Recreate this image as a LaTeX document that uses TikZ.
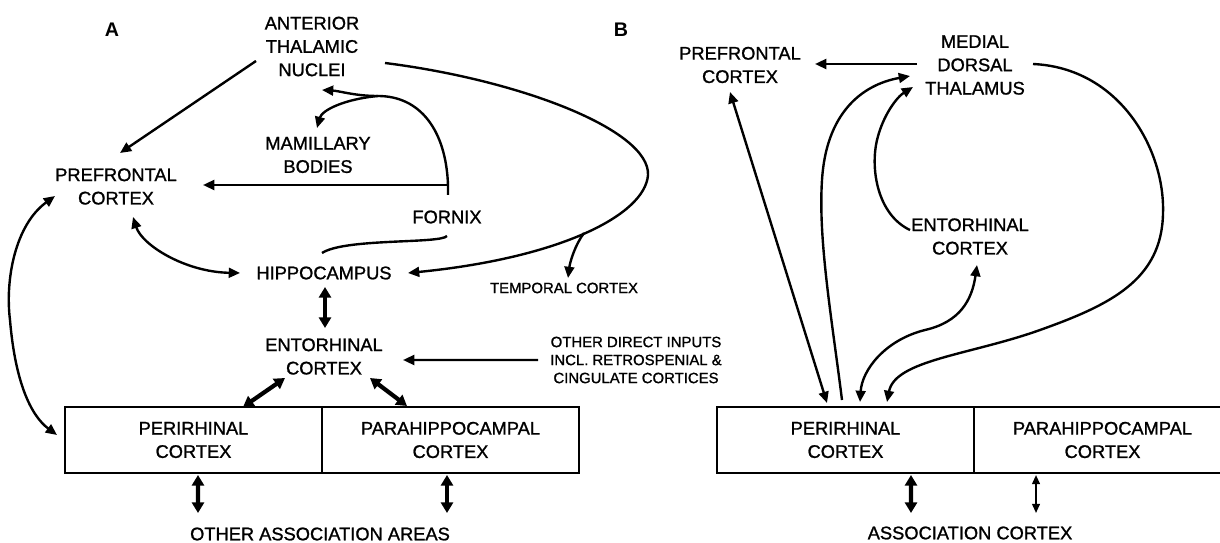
\documentclass[tikz,border=0pt]{standalone}
\usepackage{fontspec}
\setmainfont{Liberation Sans}
\newfontfamily\labfont{Liberation Sans}[FakeBold=1.2]
\usetikzlibrary{arrows.meta,calc}
\begin{document}
\begin{tikzpicture}[x=0.025cm,y=-0.025cm,
    lbl/.style={align=center,inner sep=0pt,font=\labfont\fontsize{13}{16.6}\selectfont},
    small/.style={align=center,inner sep=0pt,font=\labfont\fontsize{10.6}{12.8}\selectfont},
    panel/.style={inner sep=0pt,font=\bfseries\fontsize{14}{16}\selectfont},
    cell/.style={draw,line width=1.5pt,minimum width=6.425cm,minimum height=1.65cm,
      inner sep=0pt,align=center,font=\labfont\fontsize{13}{16.6}\selectfont},
    plain/.style={line width=1.7pt},
    arr/.style={line width=1.7pt,-{Triangle[length=8pt,width=7pt]}},
    darr/.style={line width=1.7pt,{Triangle[length=8pt,width=7pt]}-{Triangle[length=8pt,width=7pt]}},
    thinarr/.style={line width=1.3pt,{Triangle[length=6.5pt,width=5.5pt]}-{Triangle[length=6.5pt,width=5.5pt]}},
    fat/.style={line width=3pt,{Triangle[length=7.5pt,width=8.5pt]}-{Triangle[length=7.5pt,width=8.5pt]}}]
    \useasboundingbox (0,0) rectangle (1220,543);
    % panel A
    \node[panel] (labA) at (112,30) {A};
    \node[lbl] (atn) at (312,46.5) {ANTERIOR\\THALAMIC\\NUCLEI};
    \node[lbl] (pfcA) at (116,186.5) {PREFRONTAL\\CORTEX};
    \node[lbl] (mb) at (318,155) {MAMILLARY\\BODIES};
    \node[lbl] (fornix) at (447,217) {FORNIX};
    \node[lbl] (hip) at (324,273) {HIPPOCAMPUS};
    \node[small] (tc) at (564,288) {TEMPORAL CORTEX};
    \node[lbl] (entA) at (324,356.5) {ENTORHINAL\\CORTEX};
    \node[small] (oth) at (636,360) {OTHER DIRECT INPUTS\\INCL. RETROSPENIAL \&\\CINGULATE CORTICES};
    \node[cell] (periA) at (193.5,440) {PERIRHINAL\\CORTEX};
    \node[cell] (paraA) at (450.5,440) {PARAHIPPOCAMPAL\\CORTEX};
    \node[lbl] (assocA) at (320,534) {OTHER ASSOCIATION AREAS};

    \draw[arr] ($(atn)+(-56,14.5)$) -- ($(pfcA)+(4,-33.5)$);
    \draw[arr] ($(atn)+(73,16.5)$) .. controls (520,80) and (650,130) .. (648,175)
        .. controls (645,215) and (560,258) .. ($(hip)+(84,0)$);
    \coordinate (tcfork) at (584,233);
    \draw[arr] (tcfork) .. controls (575,245) and (570,262) .. ($(tc)+(4,-10)$);
    \coordinate (fxbend) at (448,185);
    \coordinate (fxsplit) at (378,96);
    \draw[plain] ($(fornix)+(1,-22)$) -- (fxbend) .. controls (446,130) and (420,96) .. (fxsplit);
    \draw[arr] (fxbend) -- ($(pfcA)+(87,-1.5)$);
    \draw[arr] (fxsplit) .. controls (355,96) and (340,91) .. ($(atn)+(10,43.5)$);
    \draw[arr] (fxsplit) .. controls (345,99) and (322,110) .. ($(mb)+(-1,-27)$);
    \draw[plain] ($(fornix)+(0,19)$) .. controls (440,244) and (345,238) .. ($(hip)+(-2,-20)$);
    \draw[darr] ($(pfcA)+(17,30.5)$) .. controls (142,245) and (185,272) .. ($(hip)+(-84,0)$);
    \draw[darr] ($(pfcA)+(-61,9.5)$) .. controls (15,225) and (5,280) .. (10,320)
        .. controls (15,380) and (30,415) .. ($(periA)+(-136.5,-5)$);
    \draw[fat] ($(hip)+(1,14)$) -- ($(entA)+(1,-28.5)$);
    \draw[arr] ($(oth)+(-98,0)$) -- ($(entA)+(79,3.5)$);
    \draw[fat] ($(entA)+(-39,21.5)$) -- ($(periA)+(49.5,-33)$);
    \draw[fat] ($(entA)+(46,21.5)$) -- ($(paraA)+(-43.5,-34)$);
    \draw[fat] ($(periA)+(4.5,35)$) -- ($(assocA)+(-122,-21)$);
    \draw[fat] ($(paraA)+(-3.5,35)$) -- ($(assocA)+(127,-21)$);

    % panel B
    \node[panel] (labB) at (621,30) {B};
    \node[lbl] (pfcB) at (740,65) {PREFRONTAL\\CORTEX};
    \node[lbl] (mdt) at (975,65) {MEDIAL\\DORSAL\\THALAMUS};
    \node[lbl] (entB) at (970,236.5) {ENTORHINAL\\CORTEX};
    \node[cell] (periB) at (845.5,440) {PERIRHINAL\\CORTEX};
    \node[cell] (paraB) at (1102.5,440) {PARAHIPPOCAMPAL\\CORTEX};
    \node[lbl] (assocB) at (970,533) {ASSOCIATION CORTEX};

    \draw[arr] ($(mdt)+(-58,-1)$) -- ($(pfcB)+(75,-1)$);
    \draw[darr] ($(pfcB)+(-10,27)$) -- ($(periB)+(-18.5,-37)$);
    \draw[arr] ($(periB)+(-3.5,-40)$) .. controls (832,320) and (818,240) .. (822,180)
        .. controls (826,115) and (860,85) .. ($(mdt)+(-65,11)$);
    \draw[arr] ($(entB)+(-60,-6.5)$) .. controls (878,215) and (870,170) .. (877,140)
        .. controls (883,115) and (897,97) .. ($(mdt)+(-62,22)$);
    \draw[darr] ($(entB)+(7,28.5)$) .. controls (972,300) and (960,322) .. (925,330)
        .. controls (885,340) and (862,370) .. ($(periB)+(14.5,-38)$);
    \draw[arr] ($(mdt)+(58,-1)$) .. controls (1120,68) and (1165,150) .. (1163,213)
        .. controls (1162,280) and (1110,305) .. (1040,330)
        .. controls (970,355) and (895,360) .. ($(periB)+(41.5,-38)$);
    \draw[fat] ($(periB)+(65.5,35)$) -- ($(assocB)+(-59,-20)$);
    \draw[thinarr] ($(paraB)+(-66.5,35)$) -- ($(assocB)+(66,-20)$);
\end{tikzpicture}
\end{document}
